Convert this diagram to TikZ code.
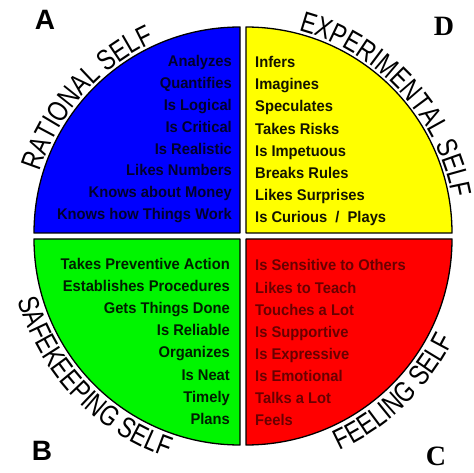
\documentclass[tikz,border=0pt]{standalone}
\usepackage{fontspec}
\setmainfont{Liberation Sans}
\newfontfamily\listfam[FakeStretch=0.95]{Liberation Sans}
\newfontfamily\arcfam[FakeStretch=0.79]{Liberation Sans}
\newfontfamily\serfam{Liberation Serif}
\newcommand\myarcfont{\arcfam\fontsize{29}{29}\selectfont}
\usetikzlibrary{decorations.text}
\definecolor{qblue}{RGB}{0,0,255}
\definecolor{qyellow}{RGB}{255,255,0}
\definecolor{qgreen}{RGB}{0,245,0}
\definecolor{qred}{RGB}{255,0,0}
\definecolor{tblue}{RGB}{0,0,45}
\definecolor{tyellow}{RGB}{20,20,0}
\definecolor{tgreen}{RGB}{0,30,0}
\definecolor{tred}{RGB}{105,0,0}
\begin{document}
\begin{tikzpicture}[x=1pt,y=1pt,
  quad/.style={draw=black, line width=1.3pt, line join=round},
  item/.style={inner sep=0pt, font=\listfam\bfseries\fontsize{15.5}{18}\selectfont},
  corner/.style={inner sep=0pt, font=\bfseries\fontsize{28}{28}\selectfont},
  scorner/.style={inner sep=0pt, font=\serfam\bfseries\fontsize{28}{28}\selectfont},
  arclabel/.style={decorate, decoration={text along path, text={#1}, text align=center}}]
\useasboundingbox (0,0) rectangle (474,-473);
\fill[white] (0,0) rectangle (474,-473);
\coordinate (O) at (243,-236);
% quadrants
\filldraw[quad, fill=qblue] (240,-233) -- ++(180:206pt) arc[start angle=180, end angle=90, radius=206pt] -- cycle;
\filldraw[quad, fill=qyellow] (246,-233) -- ++(90:206pt) arc[start angle=90, end angle=0, radius=206pt] -- cycle;
\filldraw[quad, fill=qgreen] (240,-239) -- ++(270:206pt) arc[start angle=270, end angle=180, radius=206pt] -- cycle;
\filldraw[quad, fill=qred] (246,-239) -- ++(0:206pt) arc[start angle=0, end angle=-90, radius=206pt] -- cycle;
% lists
\foreach \t [count=\i from 0] in {Analyzes, Quantifies, Is Logical, Is Critical, Is Realistic, Likes Numbers, Knows about Money, Knows how Things Work}
  \node[item, text=tblue, anchor=base east] (b\i) at (232,{-(66.5+21.9*\i)}) {\t};
\foreach \t [count=\i from 0] in {Infers, Imagines, Speculates, Takes Risks, Is Impetuous, Breaks Rules, Likes Surprises, Is Curious~~/~~Plays}
  \node[item, text=tyellow, anchor=base west] (y\i) at (255,{-(67.5+22.2*\i)}) {\t};
\foreach \t [count=\i from 0] in {Takes Preventive Action, Establishes Procedures, Gets Things Done, Is Reliable, Organizes, Is Neat, Timely, Plans}
  \node[item, text=tgreen, anchor=base east] (g\i) at (230,{-(269.5+22.1*\i)}) {\t};
\foreach \t [count=\i from 0] in {Is Sensitive to Others, Likes to Teach, Touches a Lot, Is Supportive, Is Expressive, Is Emotional, Talks a Lot, Feels}
  \node[item, text=tred, anchor=base west] (r\i) at (255,{-(271+22.1*\i)}) {\t};
% curved labels
\path[arclabel={|\myarcfont|RATIONAL SELF}] ([shift={(183.5:213pt)}]O) arc[start angle=183.5, end angle=93.5, radius=213pt];
\path[arclabel={|\myarcfont|EXPERIMENTAL SELF}] ([shift={(87.5:213pt)}]O) arc[start angle=87.5, end angle=-2.5, radius=213pt];
\path[arclabel={|\myarcfont|SAFEKEEPING SELF}] ([shift={(178.5:234pt)}]O) arc[start angle=178.5, end angle=268.5, radius=234pt];
\path[arclabel={|\myarcfont|FEELING SELF}] ([shift={(269:235pt)}]O) arc[start angle=269, end angle=359, radius=235pt];
% corner letters
\node[corner] (A) at (45,-20) {A};
\node[corner] (B) at (42,-451) {B};
\node[scorner] (C) at (436,-456) {C};
\node[scorner] (D) at (444,-26) {D};
\end{tikzpicture}
\end{document}
